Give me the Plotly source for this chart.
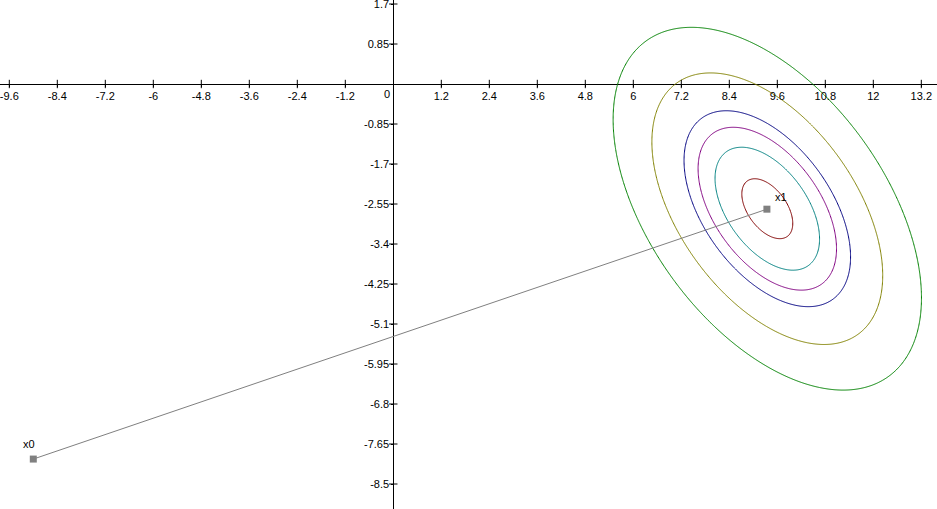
import numpy as np
import plotly.graph_objects as go

# ---- data ----
x_ticks = [-9.6, -8.4, -7.2, -6, -4.8, -3.6, -2.4, -1.2, 1.2, 2.4, 3.6, 4.8, 6, 7.2, 8.4, 9.6, 10.8, 12, 13.2]
x_tick_text = ["-9.6", "-8.4", "-7.2", "-6", "-4.8", "-3.6", "-2.4", "-1.2", "1.2", "2.4", "3.6", "4.8",
               "6", "7.2", "8.4", "9.6", "10.8", "12", "13.2"]
y_ticks = [1.7, 0.85, -0.85, -1.7, -2.55, -3.4, -4.25, -5.1, -5.95, -6.8, -7.65, -8.5]
y_tick_text = ["1.7", "0.85", "-0.85", "-1.7", "-2.55", "-3.4", "-4.25", "-5.1", "-5.95", "-6.8", "-7.65", "-8.5"]

point_names = ["x0", "x1"]
point_x = [-9.0, 9.34]
point_y = [-7.97, -2.66]

# quadratic bowl whose level sets are drawn
center = (9.35, -2.65)
quad_a, quad_b, quad_c = 1.0, 0.984, 1.0
levels = [0.308, 1.294, 2.27, 3.285, 6.31, 11.26]
level_colors = ["#800000", "#008080", "#800080", "#000080", "#808000", "#008000"]

x_range = [-9.8325, 13.5925]
y_range = [-9.031, 1.785]

# ---- figure ----
gx = np.arange(4.3, 14.4, 0.05)
gy = np.arange(-7.4, 2.0, 0.05)
GX, GY = np.meshgrid(gx, gy)
dx = GX - center[0]
dy = GY - center[1]
Z = np.round(quad_a * dx ** 2 + quad_b * dx * dy + quad_c * dy ** 2, 3)

fig = go.Figure()
for lev, col in zip(levels, level_colors):
    fig.add_trace(go.Contour(
        x=np.round(gx, 3), y=np.round(gy, 3), z=Z,
        contours=dict(start=lev, end=lev, size=1, coloring="none"),
        line=dict(color=col, width=1, smoothing=0.6),
        showscale=False, hoverinfo="skip"))

# cross tick marks on both axes
fig.add_trace(go.Scatter(x=x_ticks, y=[0] * len(x_ticks), mode="markers",
                         marker=dict(symbol="line-ns", size=6, line=dict(color="black", width=1)),
                         hoverinfo="skip", showlegend=False))
fig.add_trace(go.Scatter(x=[0] * len(y_ticks), y=y_ticks, mode="markers",
                         marker=dict(symbol="line-ew", size=6, line=dict(color="black", width=1)),
                         hoverinfo="skip", showlegend=False))

# path between the points
fig.add_trace(go.Scatter(x=point_x, y=point_y, mode="lines+markers",
                         line=dict(color="#808080", width=1),
                         marker=dict(symbol="square", size=7, color="#808080"),
                         hoverinfo="skip", showlegend=False))

label_shift = [(-4, 15), (14, 12)]
for name, px, py, (sx, sy) in zip(point_names, point_x, point_y, label_shift):
    fig.add_annotation(x=px, y=py, text=name, showarrow=False, xshift=sx, yshift=sy,
                       font=dict(family="Liberation Sans, Arial", size=11, color="black"))

fig.add_annotation(x=0, y=0, text="0", showarrow=False, xanchor="right", yanchor="top",
                   xshift=-1, yshift=-2, font=dict(family="Liberation Sans, Arial", size=11, color="black"))

pos_x_axis = (0 - y_range[0]) / (y_range[1] - y_range[0])
pos_y_axis = (0 - x_range[0]) / (x_range[1] - x_range[0])

fig.update_layout(
    width=937, height=509,
    margin=dict(l=0, r=0, t=0, b=0),
    paper_bgcolor="white", plot_bgcolor="white",
    showlegend=False,
    font=dict(family="Liberation Sans, Arial", size=11, color="black"),
    xaxis=dict(range=x_range, showgrid=False, zeroline=True, zerolinecolor="black", zerolinewidth=1,
               showline=False, anchor="free", position=pos_x_axis,
               tickmode="array", tickvals=x_ticks, ticktext=x_tick_text,
               ticks="outside", ticklen=2, tickcolor="black", automargin=False,
               ticklabeloverflow="allow", tickfont=dict(size=11)),
    yaxis=dict(range=y_range, showgrid=False, zeroline=True, zerolinecolor="black", zerolinewidth=1,
               showline=False, anchor="free", position=pos_y_axis,
               tickmode="array", tickvals=y_ticks, ticktext=y_tick_text,
               ticks="outside", ticklen=2, tickcolor="black", automargin=False,
               ticklabeloverflow="allow", tickfont=dict(size=11)),
)

fig.write_html("out.html", config={"displayModeBar": False},
               post_script="document.body.style.margin='0';document.body.style.overflow='hidden';")
